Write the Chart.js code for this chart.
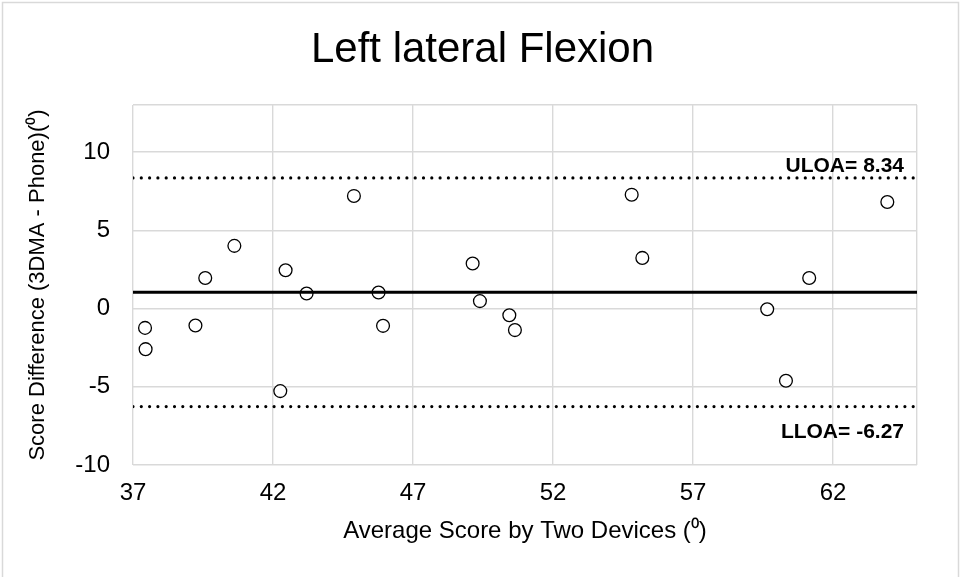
<!DOCTYPE html>
<html>
<head>
<meta charset="utf-8">
<script src="https://cdn.jsdelivr.net/npm/chart.js@4.4.1/dist/chart.umd.min.js"></script>
<style>
  html, body { margin: 0; padding: 0; background: #fff; }
  #wrap { width: 961px; height: 577px; position: relative; }
</style>
</head>
<body>
<div id="wrap"><canvas id="c" width="961" height="577"></canvas></div>
<script>
// ---- data ----
const avgScore = [37.43, 37.45, 39.23, 39.58, 40.62, 42.26, 42.45, 43.2, 44.89, 45.77, 45.93,
                  49.13, 49.39, 50.44, 50.64, 54.81, 55.19, 59.65, 60.32, 61.15, 63.94];
const scoreDiff = [-1.24, -2.6, -1.09, 1.95, 4.0, -5.28, 2.44, 0.96, 7.19, 1.02, -1.11,
                   2.87, 0.47, -0.43, -1.38, 7.27, 3.23, -0.05, -4.62, 1.95, 6.8];
const meanDiff = 1.035;
const uloa = 8.34;
const lloa = -6.27;
const xRange = [37, 65];
const yRange = [-10, 13];
const xTickLabels = [37, 42, 47, 52, 57, 62];
const yTickLabels = [-10, -5, 0, 5, 10];
const titleText = 'Left lateral Flexion';
const xTitle = 'Average Score by Two Devices (\u2070)';
const yTitle = 'Score Difference (3DMA - Phone)(\u2070)';
const ulaoLabel = 'ULOA= ' + uloa.toFixed(2);
const lloaLabel = 'LLOA= ' + lloa.toFixed(2);

const FONT = "'Liberation Sans', Arial, sans-serif";
const points = avgScore.map((x, i) => ({x: x, y: scoreDiff[i]}));
const hline = v => [{x: xRange[0], y: v}, {x: xRange[1], y: v}];

const bgPlugin = {
  id: 'bg',
  beforeDraw(chart) {
    const ctx = chart.ctx;
    ctx.save();
    ctx.fillStyle = '#fff';
    ctx.fillRect(0, 0, chart.width, chart.height);
    ctx.strokeStyle = '#d9d9d9';
    ctx.lineWidth = 1.5;
    ctx.strokeRect(2.5, 2.5, chart.width - 5, chart.height + 10);
    ctx.restore();
  }
};

// chart title, centred on the whole canvas (as in the reference)
const titlePlugin = {
  id: 'centerTitle',
  afterDraw(chart) {
    const ctx = chart.ctx;
    ctx.save();
    ctx.font = '42px ' + FONT;
    ctx.fillStyle = '#000';
    ctx.textAlign = 'center';
    ctx.textBaseline = 'alphabetic';
    ctx.fillText(titleText, chart.width / 2 + 2, 62);
    ctx.restore();
  }
};

const loaLabels = {
  id: 'loaLabels',
  afterDatasetsDraw(chart) {
    const ctx = chart.ctx, xs = chart.scales.x, ys = chart.scales.y;
    ctx.save();
    ctx.font = 'bold 21px ' + FONT;
    ctx.fillStyle = '#000';
    ctx.textAlign = 'right';
    ctx.textBaseline = 'middle';
    const xr = xs.getPixelForValue(xRange[1]) - 13;
    ctx.fillText(ulaoLabel, xr, ys.getPixelForValue(uloa) - 12);
    ctx.fillText(lloaLabel, xr, ys.getPixelForValue(lloa) + 26);
    ctx.restore();
  }
};

new Chart(document.getElementById('c'), {
  type: 'scatter',
  data: {
    datasets: [
      {
        type: 'line', data: hline(meanDiff), borderColor: '#000', borderWidth: 3,
        pointRadius: 0, order: 0, fill: false
      },
      {
        type: 'line', data: hline(uloa), borderColor: '#000', borderWidth: 3.2,
        borderDash: [0, 8.3], borderCapStyle: 'round', pointRadius: 0, order: 0, fill: false
      },
      {
        type: 'line', data: hline(lloa), borderColor: '#000', borderWidth: 3.2,
        borderDash: [0, 8.3], borderCapStyle: 'round', pointRadius: 0, order: 0, fill: false
      },
      {
        data: points, pointRadius: 6.4, pointBorderWidth: 1.3,
        pointBorderColor: '#000', pointBackgroundColor: '#fff', order: 1
      }
    ]
  },
  options: {
    responsive: false,
    animation: false,
    devicePixelRatio: 1,
    layout: { padding: { left: 0, right: 44, top: 105, bottom: 0 } },
    plugins: {
      legend: { display: false },
      tooltip: { enabled: false },
      title: { display: false }
    },
    scales: {
      x: {
        type: 'linear', min: xRange[0], max: xRange[1],
        afterBuildTicks(scale) {
          scale.ticks = xTickLabels.concat([xRange[1]]).map(v => ({value: v}));
        },
        afterFit(scale) { scale.height = 112; },
        grid: { color: '#d9d9d9', lineWidth: 1.4, drawTicks: false },
        border: { display: false },
        ticks: {
          padding: 14, color: '#000', maxRotation: 0,
          font: { family: FONT, size: 24 },
          callback: v => xTickLabels.includes(v) ? String(v) : ''
        },
        title: {
          display: true, text: xTitle, color: '#000',
          font: { family: FONT, size: 24 },
          padding: { top: 0, bottom: 31 }
        }
      },
      y: {
        type: 'linear', min: yRange[0], max: yRange[1],
        afterBuildTicks(scale) {
          scale.ticks = yTickLabels.concat([yRange[1]]).map(v => ({value: v}));
        },
        afterFit(scale) { scale.width = 133; },
        grid: { color: '#d9d9d9', lineWidth: 1.4, drawTicks: false },
        border: { display: false },
        ticks: {
          padding: 23, color: '#000',
          font: { family: FONT, size: 24 },
          callback: v => yTickLabels.includes(v) ? String(v) : ''
        },
        title: {
          display: true, text: yTitle, color: '#000',
          font: { family: FONT, size: 22 },
          padding: { top: 25, bottom: 0 }
        }
      }
    }
  },
  plugins: [bgPlugin, titlePlugin, loaLabels]
});
</script>
</body>
</html>
